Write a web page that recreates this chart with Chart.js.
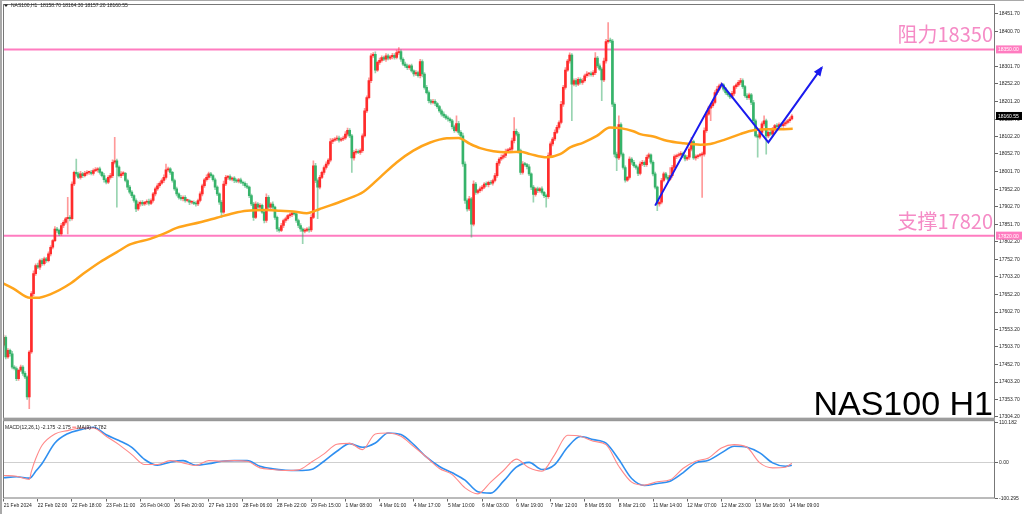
<!DOCTYPE html>
<html>
<head>
<meta charset="utf-8">
<script src="https://cdn.jsdelivr.net/npm/chart.js@4.4.1/dist/chart.umd.min.js"></script>
<style>
  html, body { margin: 0; padding: 0; background: #fff; overflow: hidden; }
  #wrap { width: 1024px; height: 514px; }
</style>
</head>
<body>
<div id="wrap"><canvas id="chart" width="1024" height="514"></canvas></div>
<script>
// NAS100 H1 candles, 21 Feb - 14 Mar 2024 (one value per hourly bar)
const firstOpen = 17508;
const closes = [
  17531, 17475, 17494, 17484, 17446, 17442, 17413, 17437, 17446, 17428,
  17418, 17361, 17489, 17655, 17712, 17735, 17730, 17749, 17740, 17754,
  17749, 17768, 17787, 17806, 17839, 17835, 17825, 17849, 17858, 17868,
  17872, 17868, 17967, 18000, 17996, 17986, 17996, 17991, 17997, 18000,
  18000, 17997, 18005, 18007, 18010, 18000, 17991, 17979, 17972, 17986,
  17991, 18029, 18033, 18015, 17991, 17996, 17997, 17977, 17958, 17944,
  17934, 17920, 17896, 17910, 17915, 17910, 17915, 17918, 17912, 17920,
  17939, 17953, 17962, 17969, 17977, 17986, 18007, 18010, 18000, 17977,
  17953, 17939, 17929, 17925, 17929, 17920, 17920, 17915, 17915, 17912,
  17910, 17920, 17939, 17962, 17979, 17986, 17996, 17991, 17979, 17958,
  17939, 17915, 17887, 17967, 17986, 17988, 17981, 17984, 17977, 17975,
  17979, 17972, 17969, 17962, 17958, 17934, 17910, 17872, 17910, 17901,
  17906, 17887, 17863, 17929, 17901, 17910, 17901, 17872, 17839, 17835,
  17849, 17863, 17868, 17877, 17880, 17884, 17882, 17863, 17849, 17839,
  17833, 17835, 17839, 17836, 17872, 18019, 17977, 17958, 17986, 18000,
  18014, 18024, 18035, 18088, 18092, 18095, 18098, 18092, 18095, 18098,
  18109, 18120, 18104, 18041, 18057, 18060, 18057, 18062, 18104, 18175,
  18213, 18261, 18332, 18336, 18291, 18313, 18319, 18327, 18322, 18332,
  18325, 18329, 18333, 18327, 18341, 18344, 18322, 18308, 18303, 18298,
  18303, 18289, 18280, 18284, 18275, 18315, 18280, 18242, 18227, 18204,
  18199, 18202, 18196, 18187, 18175, 18166, 18161, 18155, 18152, 18147,
  18130, 18119, 18139, 18114, 18104, 18024, 17920, 17896, 17925, 17853,
  17967, 17943, 17948, 17953, 17958, 17967, 17965, 17972, 17969, 17977,
  17991, 18026, 18038, 18043, 18048, 18060, 18064, 18066, 18090, 18117,
  18109, 18062, 18000, 18024, 18022, 18016, 17996, 17958, 17937, 17953,
  17948, 17953, 17943, 17934, 17931, 18048, 18081, 18095, 18114, 18128,
  18142, 18194, 18242, 18291, 18317, 18334, 18251, 18261, 18251, 18265,
  18256, 18261, 18275, 18280, 18281, 18278, 18284, 18325, 18303, 18294,
  18263, 18317, 18372, 18376, 18374, 18194, 18052, 18041, 18136, 18052,
  18014, 17978, 17986, 18038, 18029, 18019, 18014, 17997, 18024, 18029,
  18022, 18043, 18050, 18029, 17996, 17958, 17910, 17915, 17977, 17996,
  17986, 17981, 17991, 18014, 18045, 18048, 18050, 18054, 18048, 18038,
  18043, 18066, 18088, 18041, 18045, 18048, 18050, 18052, 18119, 18166,
  18183, 18190, 18199, 18227, 18237, 18246, 18249, 18237, 18227, 18221,
  18215, 18225, 18244, 18249, 18256, 18261, 18244, 18218, 18213, 18221,
  18199, 18147, 18104, 18100, 18114, 18138, 18147, 18104, 18114, 18109,
  18123, 18133, 18130, 18136, 18133, 18138, 18142, 18147, 18152, 18160.55
];
// wick lengths above / below the body, in points
const upWick = [
  6,4,5,3,7,4,5,3,6,4, 5,3,4,6,8,5,7,4,6,5, 4,6,5,3,7,5,4,6,5,4,
  57,5,6,4,38,5,7,4,6,5, 4,6,5,7,4,5,3,6,4,5, 6,7,67,5,4,6,5,3,4,5,
  4,3,5,6,4,5,3,4,6,5, 4,5,6,4,5,7,17,5,4,3, 4,5,3,6,4,5,4,3,5,4,
  5,4,6,5,4,7,5,4,3,5, 4,3,5,8,6,4,5,3,4,5, 4,5,3,4,6,3,4,5,6,4,
  5,4,3,10,5,4,6,3,4,5, 6,4,5,3,4,6,5,3,4,5, 3,5,4,6,8,14,7,5,6,4,
  5,6,4,8,5,4,6,5,4,5, 7,6,5,4,5,6,4,5,6,7, 5,8,6,5,7,4,6,5,4,6,
  5,4,6,5,7,11,5,4,6,5, 4,5,3,6,4,7,5,4,6,5, 4,6,5,3,4,5,6,4,5,3,
  4,5,22,6,5,8,6,5,7,4, 9,5,4,6,5,4,6,3,5,4, 6,5,4,7,5,6,4,5,8,39,
  6,5,4,7,5,4,6,3,5,4, 5,4,6,3,4,8,6,5,7,6, 5,8,6,7,5,6,4,5,6,5,
  4,6,5,7,4,5,6,16,5,6, 4,8,7,50,6,5,4,6,25,5, 4,5,3,6,4,5,3,4,6,5,
  4,6,5,3,4,5,3,4,6,5, 4,5,23,6,5,4,6,5,4,3, 5,6,12,4,5,3,4,6,8,7,
  6,5,7,6,8,5,6,4,5,4, 5,6,4,5,6,7,5,4,6,5, 4,6,5,4,7,6,14,5,4,6,
  5,4,6,5,4,3,5,4,5,3.75
];
const downWick = [
  5,6,4,7,5,4,6,5,4,6, 5,7,33,4,6,5,4,6,5,4, 5,4,6,5,3,6,5,4,6,5,
  43,6,4,5,7,4,5,6,4,5, 6,4,5,3,6,5,4,7,5,4, 5,6,5,114,4,6,5,4,7,5,
  6,5,8,4,6,5,4,6,5,4, 5,6,4,5,3,6,5,4,6,5, 4,6,5,4,6,5,4,7,5,4,
  6,5,4,6,5,4,6,5,4,7, 5,6,15,4,5,6,4,5,6,4, 5,4,6,5,4,6,5,9,4,6,
  5,4,7,5,6,4,5,6,7,5, 4,6,5,4,5,6,4,5,6,7, 36,5,4,6,5,4,6,90,5,4,
  6,5,4,5,6,4,5,6,4,5, 4,6,5,41,6,5,4,6,5,4, 5,4,6,5,8,4,6,5,4,6,
  5,4,6,5,4,5,6,4,5,6, 5,4,6,5,4,6,8,5,4,6, 5,4,6,5,4,6,5,4,6,5,
  6,5,4,6,5,7,8,6,5,37, 5,6,4,5,6,4,5,6,4,5, 4,5,6,4,5,6,4,5,4,6,
  5,7,6,5,4,6,5,7,22,5, 6,4,5,6,30,5,4,6,5,4, 5,4,6,5,4,6,104,5,6,4,
  5,6,4,5,6,4,5,6,5,4, 59,5,6,4,5,7,8,36,5,6, 5,6,4,5,6,4,5,6,4,5,
  6,5,4,5,6,5,19,6,5,4, 5,6,4,5,4,6,5,4,6,5, 4,6,5,4,6,5,4,121,6,5,
  4,36,5,4,6,5,4,6,5,4, 5,4,6,5,4,6,5,4,6,5, 6,5,4,57,5,4,6,52,5,4,
  5,6,4,5,4,5,6,4,5,3
];

// orange moving average, read at these bar positions
const maBars = [-1.6, 4.6, 12.4, 15.5, 21.8, 31.1, 37.4, 45.2, 53, 59.2, 68.6, 74.8, 81, 92, 99.8,
  107.6, 113.9, 123.2, 129.4, 135.6, 141.9, 148, 152.9, 159.1, 168.5, 176.2, 184.1, 191.8, 199.7,
  207.5, 212.9, 218.4, 223.1, 229.3, 235.5, 241.8, 246.5, 254.3, 260.5, 265.2, 271.4, 277.7, 283.9,
  288.6, 294.8, 298, 304.2, 310.5, 318.3, 326.1, 330.8, 337, 344.8, 351, 357.3, 363.5, 369.4];
const maValues = [17688, 17669, 17643, 17643, 17653, 17683, 17712, 17745, 17773, 17795, 17811, 17825, 17842, 17858, 17871,
  17884, 17891, 17893, 17891, 17889, 17884, 17896, 17906, 17920, 17945, 17986, 18029, 18062, 18085,
  18097, 18098, 18081, 18069, 18060, 18057, 18059, 18052, 18043, 18052, 18071, 18085, 18104, 18128,
  18126, 18117, 18109, 18102, 18090, 18083, 18079, 18081, 18092, 18109, 18120, 18123, 18123, 18124];

// MACD(12,26,1) and its MA(9), read at these bar positions
const macdBars = [0, 6, 12, 13, 15, 18, 24, 30, 36, 42, 48, 54, 60, 66, 72, 78, 84, 90, 96, 102, 108, 114,
  120, 126, 132, 138, 144, 150, 156, 162, 168, 174, 180, 186, 192, 198, 204, 210, 216, 222, 228, 234,
  240, 246, 252, 258, 264, 270, 276, 282, 288, 294, 300, 306, 312, 318, 324, 330, 336, 342, 348, 354,
  360, 366, 369];
const macdMain = [-36.6, -38.5, -47.7, -25, 10, 47.8, 79.3, 88.6, 96, 96, 72.8, 49.6, 21.8, -6, -6, 5, -1.4, -8.8, 5, 3.2, 5, 3,
  -15.3, -20, -22.7, -21, 0.5, 23.7, 50.6, 53, 35.7, 79.3, 82, 72.8, 44, 14.4, -17, -34, -71, -87.7, -55, -22.7,
  9, -15.3, -24.6, 21.8, 75.6, 72.8, 58.9, 49.6, -10.7, -55, -63.5, -54, -48.7, -17, 3.2, 12.5, 40.4, 49.6, 42, -1.4,
  -15.3, -13.5, -2.2];
const macdSignal = [-43, -40, -44, -41, -25, -3, 54, 80, 91, 98, 77, 61, 42, 8, -8, 0.5, 5, -8, -4, 3, 5, 5,
  -10.7, -18, -21.8, -22.7, -20, 3.2, 31, 52.4, 42, 54, 82, 77.5, 49.6, 14.4, -11.6, -29, -49.6, -82, -85.8, -52.4,
  -13.5, 0, -20, -6, 42, 72, 63.5, 53.4, 7.9, -45, -64.5, -59, -52.4, -29, -1.4, 6, 26.4, 45, 42, 26.4,
  -1.4, -10.7, -7.8];

// blue projection zigzag
const zigBars = [305, 336.2, 358, 383];
const zigPrices = [17905.5, 18251.2, 18085.3, 18298.3];

const resistance = 18350;
const support = 17820;
const lastPrice = 18160.55;

const tickBars = [0, 16, 32, 48, 64, 80, 96, 112, 128, 144, 160, 176, 192, 208, 224, 240, 256, 272, 288, 304, 320, 336, 352, 368];
const tickLabels = ['21 Feb 2024', '22 Feb 02:00', '22 Feb 18:00', '23 Feb 11:00', '26 Feb 04:00', '26 Feb 20:00',
  '27 Feb 13:00', '28 Feb 06:00', '28 Feb 22:00', '29 Feb 15:00', '1 Mar 08:00', '4 Mar 01:00', '4 Mar 17:00',
  '5 Mar 10:00', '6 Mar 03:00', '6 Mar 19:00', '7 Mar 12:00', '8 Mar 05:00', '8 Mar 21:00', '11 Mar 14:00',
  '12 Mar 07:00', '12 Mar 23:00', '13 Mar 16:00', '14 Mar 09:00'];
const priceTicks = [18451.70, 18400.70, 18301.70, 18252.20, 18201.20, 18150.70, 18102.20, 18052.70, 18001.70,
  17952.20, 17902.70, 17851.70, 17802.20, 17752.70, 17703.20, 17652.20, 17602.70, 17553.20, 17503.70,
  17452.70, 17403.20, 17353.70, 17304.20];
const macdTicks = [110.182, 0, -100.295];
const macdTickLabels = ['110.182', '0.00', '-100.295'];

// ---- build candle tables
const opens = closes.map((c, i) => i === 0 ? firstOpen : closes[i - 1]);
const bodies = closes.map((c, i) => ({ x: i, y: [opens[i], c] }));
const wicks = closes.map((c, i) => ({
  x: i, y: [Math.min(opens[i], c) - downWick[i], Math.max(opens[i], c) + upWick[i]]
}));
const upBar = closes.map((c, i) => c >= opens[i]);

const FONT = 'Liberation Sans';
const PINK = '#ff7cc0';

const overlay = {
  id: 'overlay',
  beforeDraw(chart) {
    const ctx = chart.ctx;
    ctx.save();
    ctx.fillStyle = '#fff';
    ctx.fillRect(0, 0, chart.width, chart.height);
    ctx.restore();
  },
  beforeDatasetsDraw(chart) {
    const { ctx, chartArea: a, scales } = chart;
    ctx.save();
    // MACD zero line
    const z = scales.y2.getPixelForValue(0);
    ctx.strokeStyle = '#cfcfcf';
    ctx.lineWidth = 1;
    ctx.beginPath(); ctx.moveTo(a.left, Math.round(z) + 0.5); ctx.lineTo(a.right, Math.round(z) + 0.5); ctx.stroke();
    // support / resistance lines
    ctx.strokeStyle = PINK;
    ctx.lineWidth = 2;
    [resistance, support].forEach(v => {
      const y = scales.y.getPixelForValue(v);
      ctx.beginPath(); ctx.moveTo(a.left, y); ctx.lineTo(a.right, y); ctx.stroke();
    });
    ctx.restore();
  },
  afterDatasetsDraw(chart) {
    const { ctx, chartArea: a, scales } = chart;
    const sx = scales.x, sy = scales.y;
    ctx.save();
    // arrow head on the zigzag
    const n = zigBars.length;
    const x1 = sx.getPixelForValue(zigBars[n - 2]), y1 = sy.getPixelForValue(zigPrices[n - 2]);
    const x2 = sx.getPixelForValue(zigBars[n - 1]), y2 = sy.getPixelForValue(zigPrices[n - 1]);
    const ang = Math.atan2(y2 - y1, x2 - x1);
    ctx.fillStyle = '#1a1aee';
    ctx.beginPath();
    ctx.moveTo(x2 + 2 * Math.cos(ang), y2 + 2 * Math.sin(ang));
    ctx.lineTo(x2 - 8 * Math.cos(ang) + 4 * Math.sin(ang), y2 - 8 * Math.sin(ang) - 4 * Math.cos(ang));
    ctx.lineTo(x2 - 8 * Math.cos(ang) - 4 * Math.sin(ang), y2 - 8 * Math.sin(ang) + 4 * Math.cos(ang));
    ctx.closePath(); ctx.fill();

    // frame
    const sep = scales.y.bottom;
    ctx.fillStyle = '#a9a9a9';
    ctx.fillRect(0, 0, 2, chart.height);
    ctx.fillRect(0, 0, chart.width, 1);
    ctx.strokeStyle = '#777';
    ctx.lineWidth = 1;
    ctx.strokeRect(a.left + 0.5, a.top + 0.5, a.right - a.left - 1, sep - a.top - 1);
    ctx.strokeRect(a.left + 0.5, sep + 1.5, a.right - a.left - 1, a.bottom - sep - 2);
    ctx.fillStyle = '#9d9d9d';
    ctx.fillRect(a.left, sep - 1.5, a.right - a.left, 3);

    // header texts
    ctx.fillStyle = '#222';
    ctx.font = '5px "' + FONT + '"';
    ctx.textBaseline = 'middle';
    ctx.textAlign = 'left';
    ctx.beginPath(); ctx.moveTo(4, 4.5); ctx.lineTo(8, 4.5); ctx.lineTo(6, 7); ctx.closePath(); ctx.fill();
    ctx.fillText('NAS100,H1  18158.70 18164.30 18157.20 18160.55', 11, 6);
    const my = sep + 8;
    const t1 = 'MACD(12,26,1) -2.175 -2.175 ';
    ctx.fillText(t1, 5, my);
    const w1 = ctx.measureText(t1).width;
    ctx.strokeStyle = '#ff6060'; ctx.lineWidth = 1;
    ctx.beginPath(); ctx.moveTo(5 + w1, my); ctx.lineTo(9 + w1, my); ctx.stroke();
    ctx.fillText('MA(9) -7.782', 10 + w1, my);

    // axis price flags
    const flag = (v, txt, bg) => {
      const y = sy.getPixelForValue(v);
      ctx.fillStyle = bg;
      ctx.fillRect(a.right + 1, y - 4, 26, 8);
      ctx.fillStyle = '#fff';
      ctx.font = '5px "' + FONT + '"';
      ctx.textAlign = 'left';
      ctx.fillText(txt, a.right + 3, y + 0.5);
    };
    flag(resistance, '18350.00', PINK);
    flag(support, '17820.00', PINK);
    flag(lastPrice, '18160.55', '#000');

    // labels
    ctx.fillStyle = '#f58bc6';
    ctx.textAlign = 'right';
    ctx.textBaseline = 'alphabetic';
    ctx.font = '20px "Noto Sans CJK SC"';
    ctx.fillText('阻力18350', a.right - 2, 41.5);
    ctx.fillText('支撑17820', a.right - 2, 228.5);
    ctx.fillStyle = '#000';
    ctx.font = '34px "' + FONT + '"';
    ctx.fillText('NAS100 H1', a.right - 2, sep - 4);
    ctx.restore();
  }
};

const tickFont = { size: 5, family: FONT };

new Chart(document.getElementById('chart'), {
  type: 'bar',
  data: {
    datasets: [
      {
        type: 'line', data: zigBars.map((b, i) => ({ x: b, y: zigPrices[i] })), yAxisID: 'y',
        borderColor: '#1a1aee', borderWidth: 2, pointRadius: 0, tension: 0, order: 0, clip: false
      },
      {
        type: 'line', data: maBars.map((b, i) => ({ x: b, y: maValues[i] })), yAxisID: 'y',
        borderColor: '#ffa41b', borderWidth: 2.5, pointRadius: 0, cubicInterpolationMode: 'monotone', order: 1
      },
      {
        type: 'bar', data: bodies, yAxisID: 'y', grouped: false, barThickness: 2, minBarLength: 1,
        backgroundColor: upBar.map(u => u ? '#ff2b2b' : '#36b36a'), borderWidth: 0, order: 2
      },
      {
        type: 'bar', data: wicks, yAxisID: 'y', grouped: false, barThickness: 1,
        backgroundColor: upBar.map(u => u ? 'rgba(255,70,70,0.55)' : 'rgba(50,170,100,0.5)'), borderWidth: 0, order: 3
      },
      {
        type: 'line', data: macdBars.map((b, i) => ({ x: b, y: macdMain[i] })), yAxisID: 'y2',
        borderColor: '#ff8888', borderWidth: 1.1, pointRadius: 0, cubicInterpolationMode: 'monotone', order: 1
      },
      {
        type: 'line', data: macdBars.map((b, i) => ({ x: b, y: macdSignal[i] })), yAxisID: 'y2',
        borderColor: '#2f8ff0', borderWidth: 1.6, pointRadius: 0, cubicInterpolationMode: 'monotone', order: 1
      }
    ]
  },
  options: {
    responsive: false,
    animation: false,
    events: [],
    layout: { padding: { top: 3, left: 3, right: 0, bottom: 0 } },
    plugins: { legend: { display: false }, tooltip: { enabled: false } },
    scales: {
      x: {
        type: 'linear', position: 'bottom', min: -0.3, max: 464.1, offset: false,
        afterBuildTicks: s => { s.ticks = tickBars.map(v => ({ value: v })); },
        afterFit: s => { s.height = 15.5; },
        grid: { drawOnChartArea: false, tickLength: 3, color: '#666', offset: false },
        border: { display: false },
        ticks: { autoSkip: false, maxRotation: 0, align: 'start', padding: 1, font: tickFont, color: '#222',
          callback: (v, i) => tickLabels[i] }
      },
      y: {
        type: 'linear', position: 'right', stack: 'panes', stackWeight: 416, min: 17297.8, max: 18479.2,
        afterBuildTicks: s => { s.ticks = priceTicks.map(v => ({ value: v })); },
        afterFit: s => { s.width = 29; },
        grid: { drawOnChartArea: false, tickLength: 3, color: '#666' },
        border: { display: false },
        ticks: { autoSkip: false, padding: 1, font: tickFont, color: '#222', callback: v => v.toFixed(2) }
      },
      y2: {
        type: 'linear', position: 'right', stack: 'panes', stackWeight: 79.5, min: -100.7, max: 120.5, offset: false,
        afterBuildTicks: s => { s.ticks = macdTicks.map(v => ({ value: v })); },
        afterFit: s => { s.width = 29; },
        grid: { drawOnChartArea: false, tickLength: 3, color: '#666' },
        border: { display: false },
        ticks: { autoSkip: false, padding: 1, font: tickFont, color: '#222', callback: (v, i) => macdTickLabels[i] }
      }
    }
  },
  plugins: [overlay]
});
</script>
</body>
</html>
